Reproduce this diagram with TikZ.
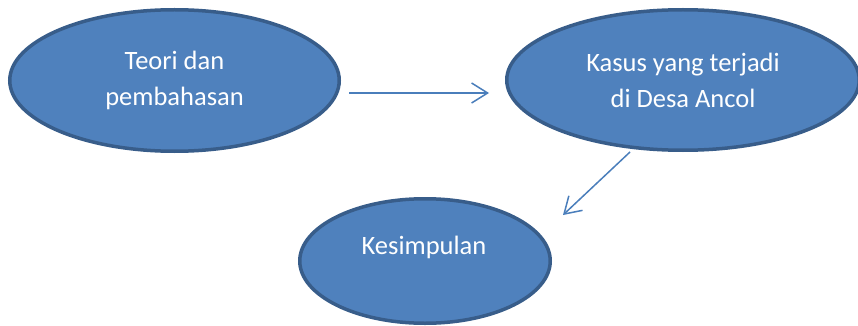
\documentclass[tikz,border=0pt]{standalone}
\usepackage{fontspec}
\setmainfont{Carlito}
\usetikzlibrary{shapes.geometric,arrows.meta}
\definecolor{shapefill}{HTML}{4F81BD}
\definecolor{shapeline}{HTML}{385D8A}
\definecolor{arrowcol}{HTML}{4A7EBB}
\tikzset{
  bubble/.style={ellipse, draw=shapeline, fill=shapefill, line width=3.5pt, inner sep=0pt,
    text=white, font=\fontsize{26.5}{36}\selectfont, align=center},
  txt/.style={text=white, font=\fontsize{26.5}{36}\selectfont, align=center, inner sep=0pt},
  flow/.style={draw=arrowcol, line width=1.5pt, -{Straight Barb[length=16pt,width=20pt]}}
}
\begin{document}
\begin{tikzpicture}[x=1pt,y=-1pt]
\useasboundingbox[fill=white] (0,0) rectangle (858,326);
\node[bubble, minimum width=329.5pt, minimum height=141.5pt] (L) at (174.5,80.5) {Teori dan\\pembahasan};
\node[bubble, minimum width=352.5pt, minimum height=140.5pt] (R) at (683,80) {Kasus yang terjadi\\di Desa Ancol};
\node[bubble, minimum width=250.5pt, minimum height=124.5pt] (B) at (425,261) {};
\node[txt] (Bt) at (424,247) {Kesimpulan};
\coordinate (a1s) at (349,93);
\coordinate (a1e) at (489,93);
\coordinate (a2s) at (630,152);
\coordinate (a2e) at (563,215);
\draw[flow] (a1s) -- (a1e);
\draw[flow] (a2s) -- (a2e);
\end{tikzpicture}
\end{document}
